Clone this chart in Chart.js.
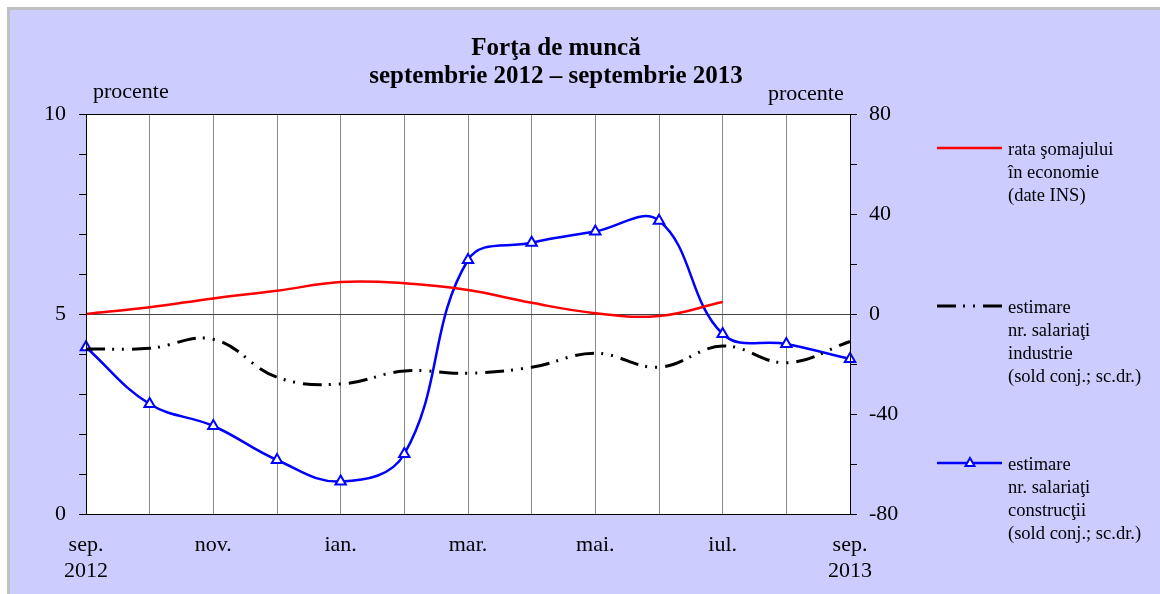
<!DOCTYPE html>
<html>
<head>
<meta charset="utf-8">
<script src="https://cdn.jsdelivr.net/npm/chart.js@4/dist/chart.umd.min.js"></script>
<style>
  html, body { margin:0; padding:0; background:#fff; }
  #wrap {
    position:absolute; left:7px; top:7px; width:1153px; height:587px;
    background:#ccccff; border-left:3px solid #c0c0c0; border-top:3px solid #c0c0c0;
  }
  #c { position:absolute; left:0; top:0; }
</style>
</head>
<body>
<div id="wrap"><canvas id="c" width="1150" height="584"></canvas></div>
<script>
// luni sep. 2012 – sep. 2013
const luni = [["sep.","2012"], "", "nov.", "", "ian.", "", "mar.", "", "mai.", "", "iul.", "", ["sep.","2013"]];

// rata somajului (procente, sc.st.)
const rataSomaj = [5.0, 5.17, 5.39, 5.58, 5.8, 5.77, 5.6, 5.28, 5.02, 4.95, 5.3, null, null];
// sold conjunctural, sc.dr.
const salIndustrie = [-14, -13.7, -10.1, -25.3, -28, -22.8, -23.7, -21.3, -15.7, -21.3, -12.8, -19.5, -11];
const salConstructii = [-13.3, -36, -44.8, -58.4, -67, -56, 21.6, 28.5, 33, 37.3, -8, -12, -18];

const ticksStanga = [0, 5, 10];
const ticksDreapta = [-80, -40, 0, 40, 80];

const titlu = ["Forţa de muncă", "septembrie 2012 – septembrie 2013"];
const legenda = [
  { text: ["rata şomajului", "în economie", "(date INS)"], tip: "rosu" },
  { text: ["estimare", "nr. salariaţi", "industrie", "(sold conj.; sc.dr.)"], tip: "negru" },
  { text: ["estimare", "nr. salariaţi", "construcţii", "(sold conj.; sc.dr.)"], tip: "albastru" }
];

const SERIF = "'Liberation Serif', 'Times New Roman', serif";
const DASH = [19, 7, 2, 8, 2, 8];

// canvasul incepe la 10,10 in pagina
const OX = 10, OY = 10;

const decor = {
  id: "decor",
  beforeDraw(chart){
    const { ctx, chartArea: a } = chart;
    ctx.save();
    ctx.fillStyle = "#fff";
    ctx.fillRect(a.left, a.top, a.right - a.left, a.bottom - a.top);
    ctx.restore();
  },
  afterDraw(chart){
    const { ctx, chartArea: a } = chart;
    ctx.save();
    // rama
    ctx.strokeStyle = "#000";
    ctx.lineWidth = 1;
    ctx.strokeRect(a.left + 0.5, a.top + 0.5, a.right - a.left, a.bottom - a.top);

    // titlu
    ctx.fillStyle = "#000";
    ctx.textAlign = "center";
    ctx.textBaseline = "alphabetic";
    ctx.font = "bold 25px " + SERIF;
    ctx.fillText(titlu[0], 556 - OX, 55 - OY);
    ctx.fillText(titlu[1], 556 - OX, 83 - OY);

    // procente
    ctx.font = "22px " + SERIF;
    ctx.textAlign = "left";
    ctx.fillText("procente", 93 - OX, 98 - OY);
    ctx.fillText("procente", 768 - OX, 100 - OY);

    // legenda
    const ys = [148, 306, 463];
    ctx.font = "18.5px " + SERIF;
    legenda.forEach((l, i) => {
      const y = ys[i] - OY;
      const x0 = 937 - OX, x1 = 1002 - OX;
      ctx.beginPath();
      if (l.tip === "rosu"){ ctx.strokeStyle = "#ff0000"; ctx.lineWidth = 2.5; ctx.setLineDash([]); }
      if (l.tip === "negru"){ ctx.strokeStyle = "#000"; ctx.lineWidth = 3; ctx.setLineDash(DASH); }
      if (l.tip === "albastru"){ ctx.strokeStyle = "#0000ff"; ctx.lineWidth = 2.5; ctx.setLineDash([]); }
      ctx.moveTo(x0, y); ctx.lineTo(x1, y); ctx.stroke();
      ctx.setLineDash([]);
      if (l.tip === "albastru"){
        const cx = 970 - OX, r = 5;
        ctx.beginPath();
        ctx.moveTo(cx, y - r);
        ctx.lineTo(cx + r * 0.9, y + r * 0.6);
        ctx.lineTo(cx - r * 0.9, y + r * 0.6);
        ctx.closePath();
        ctx.fillStyle = "#fff"; ctx.fill();
        ctx.lineWidth = 2; ctx.strokeStyle = "#0000ff"; ctx.stroke();
      }
      ctx.fillStyle = "#000";
      l.text.forEach((t, j) => ctx.fillText(t, 1008 - OX, y + 7 + j * 23));
    });
    ctx.restore();
  }
};

new Chart(document.getElementById("c"), {
  type: "line",
  data: {
    labels: luni,
    datasets: [
      { label: "rata şomajului", data: rataSomaj, yAxisID: "y", borderColor: "#ff0000", borderWidth: 2.5,
        pointRadius: 0, tension: 0.4, spanGaps: false },
      { label: "industrie", data: salIndustrie, yAxisID: "y2", borderColor: "#000", borderWidth: 3,
        borderDash: DASH, pointRadius: 0, tension: 0.4 },
      { label: "construcţii", data: salConstructii, yAxisID: "y2", borderColor: "#0000ff", borderWidth: 2.5,
        pointStyle: "triangle", pointRadius: 6, pointBackgroundColor: "#fff", pointBorderColor: "#0000ff",
        pointBorderWidth: 2, tension: 0.4 }
    ]
  },
  options: {
    responsive: false,
    animation: false,
    events: [],
    layout: { padding: { left: 0, top: 114 - OY, right: 1150 - (850 - OX) - 60, bottom: 584 - (514 - OY) - 70 } },
    plugins: { legend: { display: false }, tooltip: { enabled: false }, title: { display: false } },
    scales: {
      x: {
        offset: false,
        grid: { color: "#8a8a8a", lineWidth: 1, drawTicks: false, tickLength: 0 },
        border: { color: "#000", width: 1 },
        ticks: { color: "#000", font: { family: SERIF, size: 22, lineHeight: 1.2 }, padding: 18,
                 autoSkip: false, maxRotation: 0 },
        afterFit: (s) => { s.height = 70; }
      },
      y: {
        position: "left", min: 0, max: 10,
        grid: { color: "rgba(0,0,0,0)", tickColor: "#000", tickLength: 7 },
        border: { color: "#000", width: 1 },
        ticks: { stepSize: 1, color: "#000", font: { family: SERIF, size: 22 }, padding: 13,
                 callback: (v) => ticksStanga.includes(v) ? String(v) : "" },
        afterFit: (s) => { s.width = 86 - OX; }
      },
      y2: {
        position: "right", min: -80, max: 80,
        grid: { color: (c) => c.tick && c.tick.value === 0 ? "#444" : "rgba(0,0,0,0)", tickColor: "#000", tickLength: 7 },
        border: { color: "#000", width: 1 },
        ticks: { stepSize: 20, color: "#000", font: { family: SERIF, size: 22 }, padding: 12,
                 callback: (v) => ticksDreapta.includes(v) ? String(v) : "" },
        afterFit: (s) => { s.width = 60; }
      }
    }
  },
  plugins: [decor]
});
</script>
</body>
</html>
